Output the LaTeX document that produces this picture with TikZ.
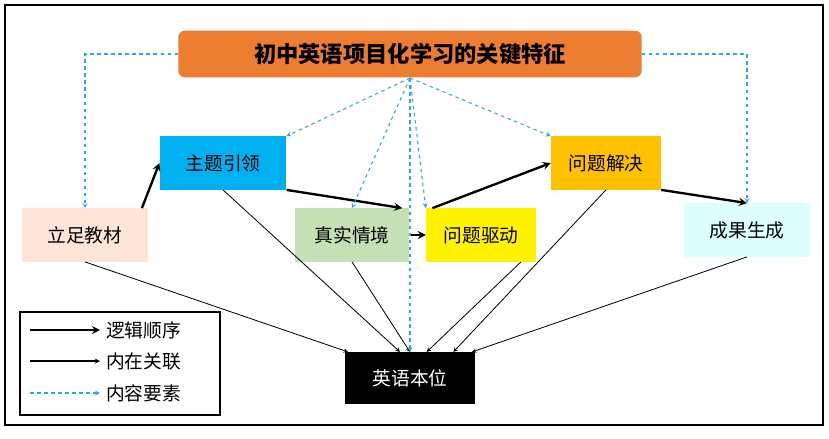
\documentclass[tikz,border=0pt]{standalone}
\usepackage{fontspec}
\setmainfont{Noto Sans CJK SC}
\usetikzlibrary{positioning}
\definecolor{titleorange}{HTML}{ED7D31}
\definecolor{dashblue}{HTML}{2EA8E0}
\begin{document}
\begin{tikzpicture}[x=0.03cm,y=-0.03cm,
  box/.style={draw=none,minimum height=1.6cm,inner sep=0pt,font=\fontsize{16}{19}\selectfont},
  order/.style={->,line width=2pt,>=stealth},
  link/.style={->,line width=0.7pt,>=stealth},
  elem/.style={->,dashed,dashblue,line width=0.9pt,>=stealth}]

\useasboundingbox (0,0) rectangle (829,438);
\draw[line width=1pt] (5,5) rectangle (823,425);

\node[box,fill=titleorange,rounded corners=2mm,minimum width=13.9cm,minimum height=1.4cm,font=\fontsize{19}{22}\selectfont\bfseries] (title) at (410,54) {初中英语项目化学习的关键特征};

\node[box,fill={rgb,255:red,252;green,228;blue,214},minimum width=3.8cm] (jc) at (85,235) {立足教材};
\node[box,fill={rgb,255:red,0;green,176;blue,240},minimum width=3.8cm] (zt) at (223,163) {主题引领};
\node[box,fill={rgb,255:red,197;green,224;blue,180},minimum width=3.4cm] (qj) at (352,235) {真实情境};
\node[box,fill=yellow,minimum width=3.3cm] (qd) at (481,235) {问题驱动};
\node[box,fill={rgb,255:red,255;green,192;blue,0},minimum width=3.3cm] (jj) at (606,163) {问题解决};
\node[box,fill={rgb,255:red,221;green,255;blue,255},minimum width=3.8cm] (cg) at (747,230) {成果生成};
\node[box,fill=black,text=white,minimum width=3.9cm,minimum height=1.55cm] (bw) at (410,378) {英语本位};

% logical order
\draw[order] ([xshift=-2mm]jc.north east) -- (zt.west);
\draw[order] (zt.south east) -- ([xshift=-2mm]qj.north east);
\draw[order] (qj.east) -- (qd.west);
\draw[order] ([xshift=2mm]qd.north west) -- (jj.west);
\draw[order] (jj.south east) -- (cg.north);

% inner links
\draw[link] (jc.south) -- ([xshift=1mm]bw.north west);
\draw[link] (zt.south) -- ([xshift=-3mm]bw.north);
\draw[link] (qj.south) -- (bw.north);
\draw[link] ([xshift=12mm]qd.south) -- ([xshift=5mm]bw.north);
\draw[link] (jj.south) -- ([xshift=13mm]bw.north);
\draw[link] (cg.south) -- ([xshift=-1mm]bw.north east);

% content elements
\coordinate (tb) at (410,78);
\draw[elem] (title.west) -| (jc.north);
\draw[elem] (title.east) -| (cg.north);
\foreach \n in {zt.north east,qj.north,qd.north west,jj.north west,bw.north}
  \draw[elem] (tb) -- (\n);

% legend
\draw[line width=1pt] (20,312) rectangle (220,415);
\coordinate (l1a) at (30,330); \coordinate (l1b) at (100,330);
\coordinate (l2a) at (30,361); \coordinate (l2b) at (100,361);
\coordinate (l3a) at (30,393); \coordinate (l3b) at (100,393);
\draw[order] (l1a) -- (l1b);
\draw[link,line width=1pt] (l2a) -- (l2b);
\draw[elem] (l3a) -- (l3b);
\node[anchor=west,font=\fontsize{16}{19}\selectfont] (t1) at (102,330) {逻辑顺序};
\node[anchor=west,font=\fontsize{16}{19}\selectfont] (t2) at (102,361) {内在关联};
\node[anchor=west,font=\fontsize{16}{19}\selectfont] (t3) at (102,393) {内容要素};
\end{tikzpicture}
\end{document}
